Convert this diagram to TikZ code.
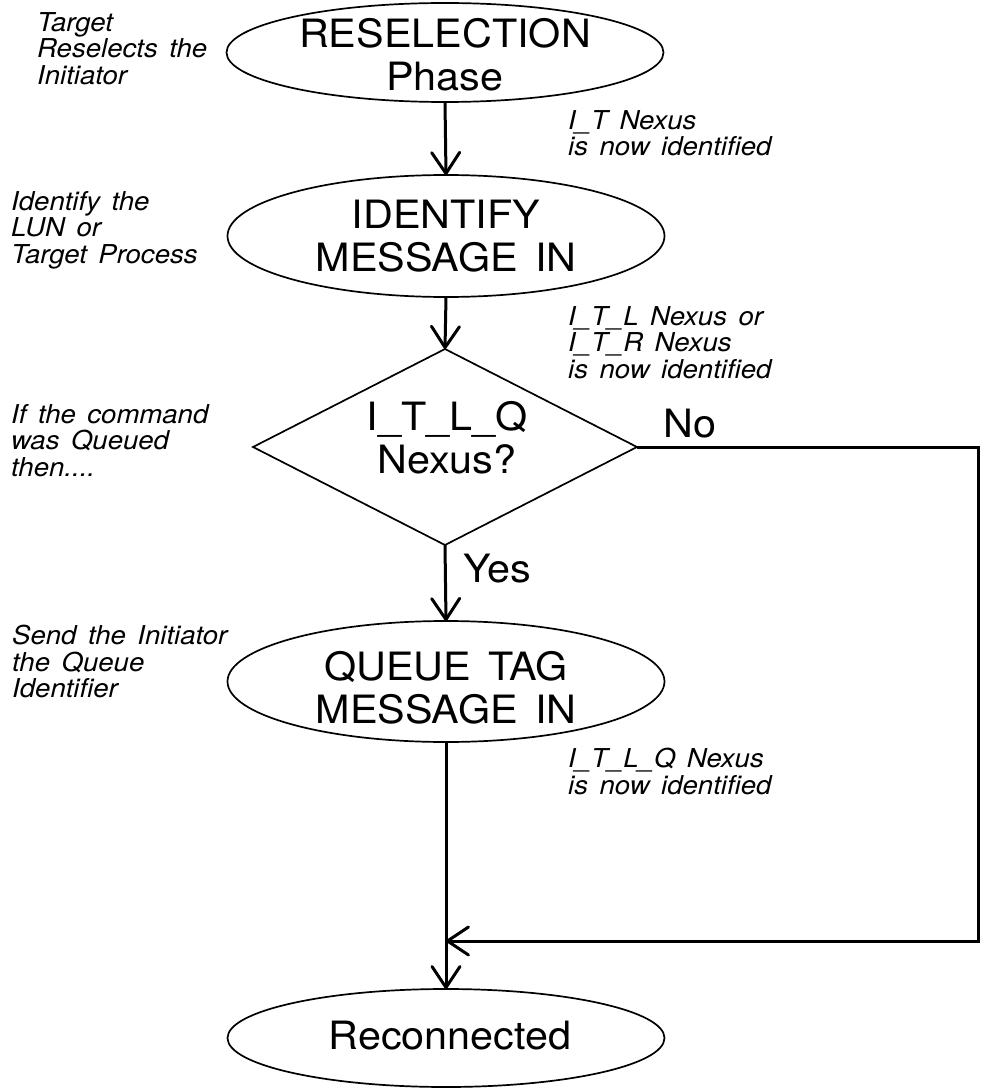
\documentclass[tikz,border=0pt]{standalone}
\usepackage{fontspec}
\setmainfont{TeX Gyre Heros}
\newfontfamily\chartfont[FakeStretch=1.06]{TeX Gyre Heros}
\newfontfamily\notefont[FakeStretch=1.06,WordSpace=1.5]{TeX Gyre Heros}
\usetikzlibrary{shapes.geometric,arrows.meta}

\begin{document}
\begin{tikzpicture}[x=1pt,y=-1pt,
  phase/.style={ellipse, draw, line width=1.7pt, inner sep=0pt, outer sep=0pt,
    minimum width=437pt},
  decision/.style={diamond, draw, line width=1.7pt, inner sep=0pt, outer sep=0pt,
    minimum width=384pt, minimum height=196pt},
  boxtext/.style={font=\chartfont\fontsize{39}{43}\selectfont, align=center,
    inner sep=0pt},
  branch/.style={font=\chartfont\fontsize{39}{43}\selectfont, inner sep=0pt,
    anchor=base west},
  note/.style={font=\notefont\itshape\fontsize{26}{26.5}\selectfont,
    align=left, inner sep=0pt, anchor=north west},
  flow/.style={line width=3pt},
  arrowed/.style={-{Straight Barb[length=21pt,width=28pt,round]}}
]
\useasboundingbox (0,0) rectangle (982,1089);

% phases and the decision
\node[phase, minimum height=99pt]  (e1) at (445,52.5) {};
\node[phase, minimum height=122pt] (e2) at (446,236) {};
\node[decision]                    (d)  at (445,447) {};
\node[phase, minimum height=121pt] (e3) at (446,681.5) {};
\node[phase, minimum height=98pt]  (e4) at (446,1038) {};

\node[boxtext] (e1t) at (445,55)     {RESELECTION\\Phase};
\node[boxtext] (e2t) at (446,236)    {IDENTIFY\\MESSAGE IN};
\node[boxtext] (dt)  at (447,437.5)  {I\_T\_L\_Q\\Nexus?};
\node[boxtext] (e3t) at (446,687.5)  {QUEUE TAG\\MESSAGE IN};
\node[boxtext] (e4t) at (450,1035.5) {Reconnected};

% branch labels
\node[branch] (no)  at (663,437) {No};
\node[branch] (yes) at (463,582) {Yes};

% step descriptions on the left
\node[note] (n1) at (37,12)  {Target\\Reselects the\\Initiator};
\node[note] (n2) at (11,191) {Identify the\\LUN or\\Target Process};
\node[note] (n3) at (11,404) {If the command\\was Queued\\then....};
\node[note] (n4) at (12,625) {Send the Initiator\\the Queue\\Identifier};

% nexus notes on the right
\node[note] (r1) at (568,110) {I\_T Nexus\\is now identified};
\node[note] (r2) at (568,306) {I\_T\_L Nexus or\\I\_T\_R Nexus\\is now identified};
\node[note] (r3) at (568,748) {I\_T\_L\_Q Nexus\\is now identified};

% connectors
\draw[flow,arrowed] (e1.south) -- (e2.north);
\draw[flow,arrowed] (e2.south) -- (d.north);
\draw[flow,arrowed] (d.south) -- (e3.north);
\draw[flow,arrowed] (e3.south) -- (e4.north);
\coordinate (corner) at (978,941);
\coordinate (join) at (e3.south |- corner);
\draw[flow,arrowed] (d.east) -| (corner) -- (join);
\end{tikzpicture}
\end{document}
